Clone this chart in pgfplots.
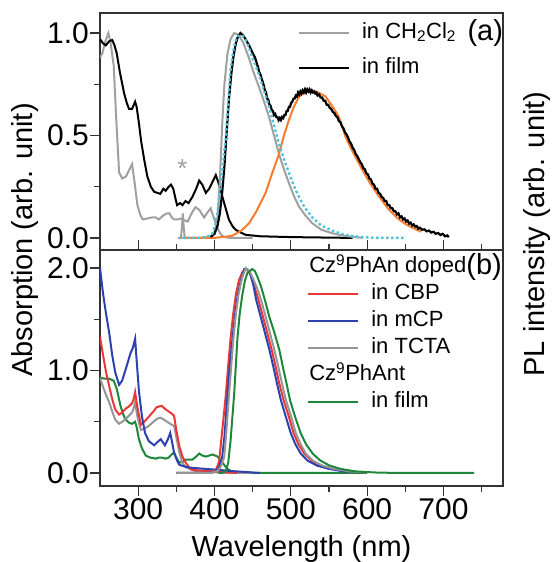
\documentclass[border=0pt]{standalone}
\usepackage{fontspec}
\setmainfont{Liberation Sans}
\usepackage{pgfplots}
\pgfplotsset{compat=1.18}
\definecolor{cgrayA}{RGB}{160,160,160}
\definecolor{ccyan}{RGB}{80,195,220}
\definecolor{corange}{RGB}{245,125,45}
\definecolor{cred}{RGB}{235,55,55}
\definecolor{cblue}{RGB}{45,65,175}
\definecolor{cgrayB}{RGB}{150,150,150}
\definecolor{cgreen}{RGB}{30,135,60}
\begin{document}
\begin{tikzpicture}
\useasboundingbox (-100pt,-76pt) rectangle (452pt,486pt);
\pgfplotsset{
  every axis/.append style={
    scale only axis, width=403pt, xmin=250, xmax=778,
    axis line style={line width=1.2pt, black!80},
    every tick/.style={line width=1.2pt, black!80},
    tick align=outside, major tick length=10pt, minor tick length=6pt,
    ticklabel style={font=\fontsize{30}{34}\selectfont},
    yticklabel style={inner sep=1pt},
    xticklabel style={inner sep=2pt},
    ytick pos=left,
  },
}
% ---------------- panel (b) ----------------
\begin{axis}[at={(0pt,0pt)}, anchor=south west, height=236pt,
  ymin=-0.127, ymax=2.176,
  ytick={0,1,2}, yticklabels={0.0,1.0,2.0}, minor ytick={0.5,1.5},
  xtick={300,400,500,600,700}, xticklabels={300,400,500,600,700},
  minor xtick={350,450,550,650,750}, xtick pos=both,
  xlabel={Wavelength (nm)},
  xlabel style={font=\fontsize{29}{34}\selectfont, at={(axis description cs:0.5,0)}, anchor=base, yshift=-70pt},
  legend image code/.code={\draw[#1] (0pt,0pt) -- (50pt,0pt);},
  legend style={at={(0.514,0.972)}, anchor=north west, draw=none, fill=none,
    font=\fontsize{22}{26}\selectfont, row sep=6pt, column sep=12pt, inner sep=0pt,
    nodes={inner sep=0pt, text height=16pt, text depth=5pt}},
  legend cell align=left,
]
\addlegendimage{empty legend}\addlegendentry{\hspace*{-62pt}Cz\textsuperscript{9}PhAn doped}
\addlegendimage{cred, line width=2pt}\addlegendentry{in CBP}
\addlegendimage{cblue, line width=2pt}\addlegendentry{in mCP}
\addlegendimage{cgrayB, line width=2pt}\addlegendentry{in TCTA}
\addlegendimage{empty legend}\addlegendentry{\hspace*{-62pt}Cz\textsuperscript{9}PhAnt}
\addlegendimage{cgreen, line width=2pt}\addlegendentry{in film}
% absorption
\addplot[cgreen, line width=2pt, forget plot] coordinates {
(250,0.93) (256,0.92) (262,0.92) (268,0.9) (272,0.82) (277,0.65) (281,0.56) (284,0.52) (288,0.49) (292,0.48) (296,0.5) (298,0.45) (301,0.33) (305,0.24) (310,0.17) (316,0.15) (323,0.14) (327,0.15) (331,0.15) (336,0.14) (340,0.15) (344,0.18) (347,0.2) (350,0.15) (354,0.1) (358,0.11) (362.5,0.13) (367,0.13) (371,0.13) (376,0.16) (380,0.19) (384,0.17) (388.7,0.16) (393,0.17) (397.4,0.18) (401,0.17) (404,0.16) (410.4,0.1) (417,0.04) (423.6,0.01) (430,0.0) (500,0.0) (600,0.0)};
\addplot[cgrayB, line width=2pt, forget plot] coordinates {
(250,0.93) (254,0.84) (258,0.76) (262,0.69) (266,0.6) (270,0.52) (275,0.48) (279,0.5) (284,0.53) (288,0.56) (292,0.59) (294,0.63) (296,0.69) (299,0.55) (303.5,0.42) (308,0.43) (314,0.46) (320,0.5) (325,0.53) (329,0.54) (334,0.52) (340,0.49) (344,0.47) (347,0.46) (350,0.35) (354,0.2) (358,0.1) (362,0.06) (367,0.04) (375,0.02) (390,0.01) (420,0.0) (450,0.0)};
\addplot[cred, line width=2pt, forget plot] coordinates {
(250,1.33) (254,1.15) (258,0.98) (262,0.85) (266,0.72) (270,0.62) (275,0.57) (279,0.59) (284,0.63) (288,0.65) (292,0.68) (294,0.72) (296,0.79) (299,0.64) (303.5,0.47) (308,0.5) (314,0.55) (320,0.6) (324,0.64) (327.5,0.65) (331,0.655) (336,0.62) (340,0.6) (344,0.58) (347,0.56) (350,0.42) (354,0.26) (358,0.16) (362.5,0.1) (367,0.05) (371,0.03) (388,0.02) (410,0.01) (430,0.0)};
\addplot[cblue, line width=2pt, forget plot] coordinates {
(250,2.0) (254,1.75) (258,1.55) (262,1.37) (266,1.15) (270,0.98) (275,0.86) (279,0.9) (284,1.02) (290,1.17) (293,1.22) (296,1.31) (298,1.1) (301,0.8) (305,0.55) (309,0.39) (314,0.31) (321,0.27) (325,0.3) (329.6,0.33) (335,0.27) (339,0.33) (342,0.39) (345,0.28) (347,0.2) (351,0.12) (354,0.08) (362,0.06) (371,0.05) (388,0.04) (406,0.03) (420,0.02) (440,0.01) (460,0.0)};
% PL
\addplot[cred, line width=2pt, forget plot] coordinates {
(350,0) (395,0) (400,0.02) (403,0.05) (406,0.11) (410,0.4) (414.8,0.76) (418,1.05) (421,1.31) (424.5,1.55) (428,1.74) (432,1.88) (436.5,1.96) (441,1.99) (445,1.97) (449,1.9) (453,1.8) (457.6,1.69) (463,1.54) (469,1.37) (475,1.2) (480,1.04) (485,0.87) (490.6,0.71) (497,0.56) (503.7,0.387) (510,0.28) (517.6,0.19) (527,0.12) (540,0.07) (555,0.04) (575,0.015) (600,0.005)};
\addplot[cblue, line width=2pt, forget plot] coordinates {
(350,0) (395,0) (402,0.02) (406,0.06) (410,0.15) (413,0.35) (417,0.76) (420,1.05) (423.6,1.31) (427,1.55) (430.6,1.74) (434.6,1.88) (439,1.99) (443,1.99) (447,1.94) (451,1.83) (454.6,1.69) (460,1.54) (466,1.37) (472,1.2) (477,1.04) (482,0.87) (487,0.71) (493,0.56) (500,0.387) (506,0.28) (513,0.19) (522,0.12) (535,0.07) (550,0.04) (570,0.015) (600,0.005)};
\addplot[cgrayB, line width=2pt, forget plot] coordinates {
(350,0) (395,0) (404,0.02) (408,0.06) (412.6,0.15) (415,0.35) (419,0.76) (422,1.05) (424.8,1.31) (428,1.55) (431.4,1.74) (436,1.9) (441,2.0) (446,1.97) (451,1.89) (456,1.8) (461,1.69) (466.5,1.54) (472.5,1.37) (478.5,1.2) (483.5,1.04) (488.5,0.87) (493.6,0.71) (500,0.56) (506.6,0.387) (513,0.28) (519.6,0.19) (529,0.12) (542,0.07) (557,0.04) (577,0.015) (600,0.005)};
\addplot[cgreen, line width=2pt, forget plot] coordinates {
(405,0) (410,0) (414.8,0.02) (418,0.1) (421,0.31) (423.5,0.55) (425.7,0.76) (428,1.05) (430,1.31) (433,1.55) (436.5,1.74) (440,1.88) (443,1.95) (449.5,1.99) (453,1.97) (457,1.9) (461,1.82) (466,1.69) (472,1.52) (478.5,1.37) (485,1.2) (490,1.02) (494.5,0.87) (499,0.71) (506,0.54) (513,0.387) (520,0.28) (528.6,0.19) (538,0.125) (550,0.075) (565,0.04) (585,0.015) (610,0.005) (640,0.0) (740,0.0)};
\node[font=\fontsize{29}{34}\selectfont] at (axis description cs:0.953,0.928) {(b)};
\end{axis}
% ---------------- panel (a) ----------------
\begin{axis}[at={(0pt,236pt)}, anchor=south west, height=237pt,
  ymin=-0.059, ymax=1.098,
  ytick={0,0.5,1}, yticklabels={0.0,0.5,1.0}, minor ytick={0.25,0.75},
  xtick=\empty,
  legend image code/.code={\draw[#1] (0pt,0pt) -- (50pt,0pt);},
  legend style={at={(0.491,0.962)}, anchor=north west, draw=none, fill=none,
    font=\fontsize{22}{26}\selectfont, row sep=14pt, column sep=12pt, inner sep=0pt,
    nodes={inner sep=0pt, text height=16pt, text depth=5pt}},
  legend cell align=left,
]
\addlegendimage{cgrayA, line width=2pt}\addlegendentry{in CH\textsubscript{2}Cl\textsubscript{2}}
\addlegendimage{black, line width=2pt}\addlegendentry{in film}
\addplot[cgrayA, line width=2pt, forget plot] coordinates {
(250,0.88) (253,0.9) (257,0.96) (261,1.0) (264,0.95) (268,0.84) (271,0.6) (275,0.32) (279,0.29) (284,0.3) (288,0.33) (292,0.36) (295,0.28) (299,0.16) (303,0.11) (306,0.09) (312,0.095) (318,0.1) (323,0.1) (327,0.09) (333,0.11) (338,0.12) (341,0.12) (344,0.1) (347,0.09) (352,0.09) (356,0.095) (361,0.085) (365,0.08) (370,0.12) (375,0.15) (380,0.137) (386.4,0.1) (390,0.12) (395,0.145) (398,0.11) (401.7,0.07) (405,0.04) (408,0.02) (412,0.005) (420,0.0) (450,0.0)};
\addplot[black, line width=2pt, forget plot] coordinates {
(250,0.97) (254,0.95) (257.6,0.94) (262,0.96) (266,0.966) (269,0.94) (272,0.9) (276,0.81) (281.6,0.706) (285,0.66) (288,0.63) (292,0.63) (296,0.665) (298,0.64) (301,0.56) (304,0.47) (308,0.38) (312,0.3) (316.6,0.25) (321,0.225) (325,0.22) (329,0.215) (333,0.24) (336,0.23) (340,0.25) (343,0.26) (346,0.24) (349,0.19) (351,0.16) (355,0.17) (358,0.16) (362,0.18) (366,0.17) (371,0.2) (376,0.24) (380,0.28) (384,0.26) (388.7,0.22) (393,0.24) (397,0.27) (401.7,0.307) (406,0.26) (410.4,0.2) (415,0.14) (419,0.088) (424,0.055) (428,0.039) (435,0.025) (441,0.015) (460,0.008) (500,0.004) (540,0.002) (581,0.0)};
\addplot[cgrayA, line width=2pt, forget plot] coordinates {
(352,0) (356,0) (357.5,0.06) (358.5,0.12) (359.5,0.06) (361,0.0) (380,0.0) (395,0.005) (400,0.03) (403.8,0.088) (407,0.28) (410.4,0.576) (413,0.75) (417,0.9) (421,0.97) (425.7,1.0) (432,0.99) (438,0.95) (445,0.88) (451,0.81) (458,0.74) (465,0.665) (471.5,0.59) (478,0.5) (484.5,0.41) (491,0.335) (497.6,0.267) (504,0.205) (510.7,0.153) (519,0.11) (528,0.072) (540,0.04) (554,0.023) (570,0.01) (594,0.0)};
\addplot[corange, line width=2pt, forget plot] coordinates {
(358,0) (400,0.0) (423,0.01) (435,0.035) (445,0.07) (455,0.13) (467,0.22) (476,0.32) (484.5,0.41) (491,0.5) (497.6,0.577) (504,0.64) (510.7,0.69) (518,0.71) (528,0.72) (536,0.71) (545.7,0.69) (555,0.64) (563,0.59) (572,0.49) (584,0.4) (594,0.33) (605,0.26) (616,0.2) (628,0.14) (640,0.095) (650,0.068) (659,0.05) (671,0.03)};
\addplot[black, line width=2.2pt, forget plot] coordinates {
(395,0.005) (400,0.02) (404,0.06) (407,0.12) (410,0.22) (413,0.35) (416,0.52) (419,0.68) (422,0.8) (425,0.89) (428,0.95) (431,0.985) (434,1.0) (437,0.99) (440,0.975) (443,0.955) (446,0.935) (449,0.91) (451,0.895) (452.5,0.885) (454,0.87) (455.5,0.85) (457,0.835) (458.5,0.81) (460,0.8) (461.5,0.78) (463,0.765) (464.5,0.745) (466,0.72) (467.5,0.71) (469,0.68) (470.5,0.675) (472,0.65) (473.5,0.645) (475,0.625) (476.5,0.62) (478,0.6) (479.5,0.605) (481,0.59) (482.5,0.59) (484,0.575) (485.5,0.585) (487,0.575) (488.5,0.59) (490,0.585) (491.5,0.6) (493,0.6) (494.5,0.62) (496,0.62) (497.5,0.64) (499,0.64) (500.5,0.66) (502,0.665) (503.5,0.68) (505,0.68) (506.5,0.695) (508,0.69) (509.5,0.71) (511,0.7) (512.5,0.715) (514,0.705) (515.5,0.72) (517,0.71) (518.5,0.725) (520,0.71) (521.5,0.725) (523,0.715) (524.5,0.725) (526,0.71) (527.5,0.72) (529,0.71) (530.5,0.715) (532,0.705) (533.5,0.71) (535,0.695) (537,0.7) (539,0.685) (541,0.685) (543,0.67) (545,0.67) (547,0.65) (549,0.65) (551,0.635) (553,0.63) (555,0.615) (557,0.61) (559,0.595) (561,0.59) (563,0.57) (565,0.565) (567,0.545) (569,0.535) (571,0.515) (573,0.505) (575,0.49) (577,0.47) (579,0.46) (581,0.44) (583,0.43) (585,0.41) (587,0.4) (589,0.385) (591,0.37) (593,0.36) (595,0.34) (597,0.335) (599,0.315) (601,0.31) (603,0.29) (605,0.285) (607,0.265) (609,0.26) (611,0.24) (613,0.24) (615,0.22) (617,0.215) (619,0.2) (621,0.195) (623,0.18) (625,0.18) (627,0.16) (629,0.16) (631,0.145) (633,0.145) (635,0.13) (637,0.13) (639,0.115) (641,0.12) (643,0.1) (645,0.105) (647,0.09) (649,0.095) (651,0.08) (653,0.085) (655,0.07) (657,0.075) (659,0.06) (661,0.066) (663,0.055) (665,0.058) (667,0.045) (669,0.05) (672,0.04) (675,0.042) (678,0.032) (681,0.036) (684,0.026) (687,0.03) (690,0.02) (693,0.024) (696,0.014) (699,0.02) (702,0.008) (705,0.012) (707,0.004)};
\addplot[ccyan, line width=2.4pt, dash pattern=on 2.5pt off 2.5pt, forget plot] coordinates {
(358,0) (380,0.0) (390,0.005) (397,0.02) (401,0.06) (405,0.15) (408,0.25) (411,0.36) (414.8,0.49) (418,0.66) (421,0.82) (425,0.92) (428,0.966) (431,0.985) (434,0.99) (437,0.985) (441,0.965) (445,0.93) (450,0.875) (455,0.83) (458,0.8) (464,0.73) (471.5,0.64) (478,0.55) (484.5,0.46) (491,0.385) (497.6,0.317) (504,0.255) (510.7,0.2) (518,0.15) (528,0.10) (540,0.06) (554,0.036) (570,0.015) (590,0.005) (610,0.0) (651,0.0)};
\node[text=cgrayA, font=\fontsize{26}{30}\selectfont, anchor=base, yshift=-15pt] at (axis cs:358,0.37) {*};
\node[font=\fontsize{29}{34}\selectfont] at (axis description cs:0.956,0.916) {(a)};
\end{axis}
\node[rotate=90, font=\fontsize{29}{34}\selectfont] at (-75pt,246pt) {Absorption (arb. unit)};
\node[rotate=90, font=\fontsize{29}{34}\selectfont] at (437pt,252pt) {PL intensity (arb. unit)};
\end{tikzpicture}
\end{document}
